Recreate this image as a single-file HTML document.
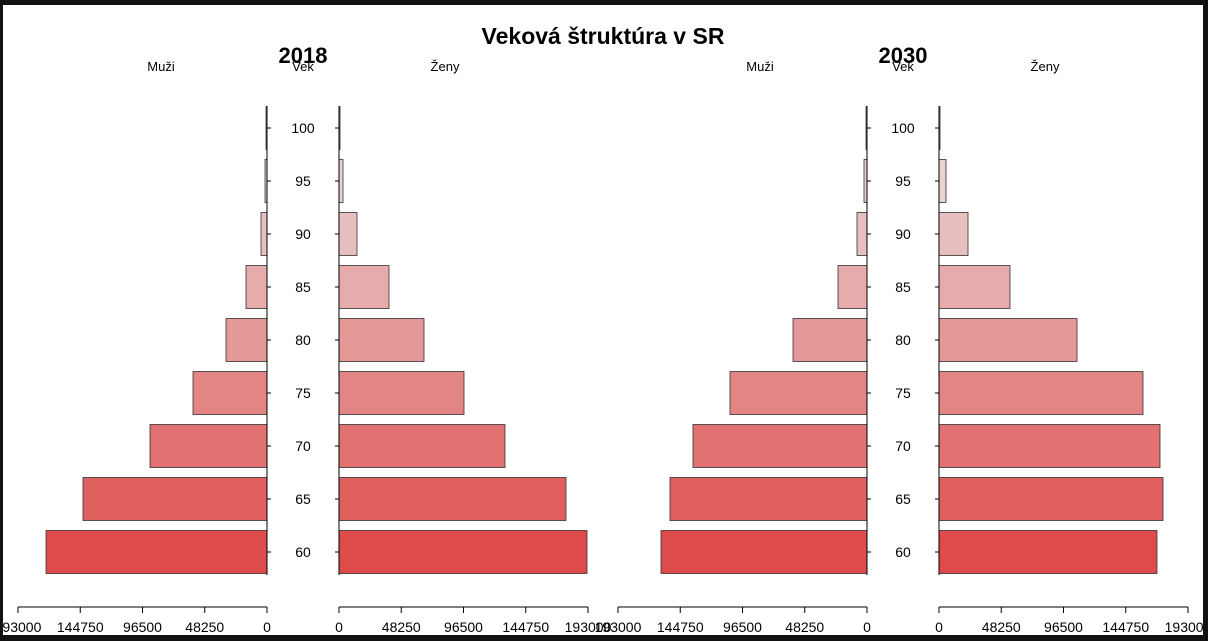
<!DOCTYPE html>
<html><head><meta charset="utf-8"><style>
html,body{margin:0;padding:0;background:#111;}
svg{display:block;}
text{font-family:"Liberation Sans",sans-serif;fill:#000;}
</style></head><body>
<svg id="s" width="1208" height="641" xmlns="http://www.w3.org/2000/svg">
<rect x="3" y="5" width="1200" height="630" fill="#fff"/>
<text x="603" y="44" font-size="23" font-weight="bold" text-anchor="middle">Veková štruktúra v SR</text>
<text x="303" y="63" font-size="22" font-weight="bold" text-anchor="middle">2018</text>
<text x="903" y="63" font-size="22" font-weight="bold" text-anchor="middle">2030</text>
<text x="303" y="71" font-size="13" text-anchor="middle">Vek</text>
<text x="903" y="71" font-size="13" text-anchor="middle">Vek</text>
<text x="161" y="71" font-size="13" text-anchor="middle">Muži</text>
<text x="445" y="71" font-size="13" text-anchor="middle">Ženy</text>
<text x="760" y="71" font-size="13" text-anchor="middle">Muži</text>
<text x="1045" y="71" font-size="13" text-anchor="middle">Ženy</text>
</svg>
<script>
const s=document.getElementById('s');const NS='http://www.w3.org/2000/svg';
function el(t,a,txt){const e=document.createElementNS(NS,t);for(const k in a)e.setAttribute(k,a[k]);if(txt!==undefined)e.textContent=txt;s.appendChild(e);return e;}
const cols=['#de4b4b','#e06060','#e27272','#e48585','#e59898','#e6acac','#e8bfbf','#e9d2d2','#ebe5e5'];
const ages=[60,65,70,75,80,85,90,95,100];
const panels=[
 {m0:267,f0:339,mid:303,m:[221,184,117,74,41,21,6,2,1],f:[248,227,166,125,85,50,18,4,1]},
 {m0:867,f0:939,mid:903,m:[206,197,174,137,74,29,10,3,1],f:[218,224,221,204,138,71,29,7,1]}
];
const lab=['193000','144750','96500','48250','0'];
for(const p of panels){
 for(let i=0;i<9;i++){
  const y=552-53*i;
  el('rect',{x:p.m0-p.m[i],y:y-21.5,width:p.m[i],height:43,fill:cols[i],stroke:'#333','stroke-width':0.8});
  el('rect',{x:p.f0,y:y-21.5,width:p.f[i],height:43,fill:cols[i],stroke:'#333','stroke-width':0.8});
  el('line',{x1:p.m0,x2:p.m0+4,y1:y,y2:y,stroke:'#000'});
  el('line',{x1:p.f0-4,x2:p.f0,y1:y,y2:y,stroke:'#000'});
  el('text',{x:p.mid,y:y+5,'font-size':14,'text-anchor':'middle'},String(ages[i]));
 }
 el('line',{x1:p.m0,x2:p.m0,y1:106,y2:575,stroke:'#000'});
 el('line',{x1:p.f0,x2:p.f0,y1:106,y2:575,stroke:'#000'});
 el('line',{x1:p.m0-249,x2:p.m0,y1:607,y2:607,stroke:'#000'});
 el('line',{x1:p.f0,x2:p.f0+249,y1:607,y2:607,stroke:'#000'});
 for(let k=0;k<5;k++){
  const xm=p.m0-249+k*62.25, xf=p.f0+k*62.25;
  el('line',{x1:xm,x2:xm,y1:607,y2:613,stroke:'#000'});
  el('line',{x1:xf,x2:xf,y1:607,y2:613,stroke:'#000'});
  el('text',{x:xm,y:632,'font-size':14,'text-anchor':'middle'},lab[k]);
  el('text',{x:xf,y:632,'font-size':14,'text-anchor':'middle'},lab[4-k]);
 }
}
el('rect',{x:0,y:0,width:1208,height:5,fill:'#111'});
el('rect',{x:0,y:635,width:1208,height:6,fill:'#111'});
el('rect',{x:0,y:0,width:3,height:641,fill:'#111'});
el('rect',{x:1203,y:0,width:5,height:641,fill:'#111'});
</script>
</body></html>
